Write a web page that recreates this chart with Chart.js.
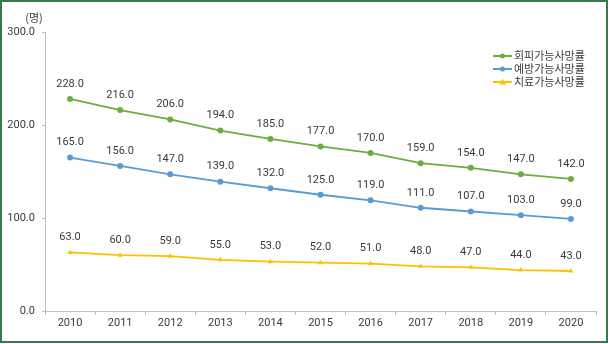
<!DOCTYPE html>
<html>
<head>
<meta charset="utf-8">
<script src="https://cdn.jsdelivr.net/npm/chart.js@4"></script>
<style>
  html, body { margin: 0; padding: 0; background: #fff; }
  #wrap { width: 610px; height: 344px; position: relative; }
</style>
</head>
<body>
<div id="wrap"><canvas id="c" width="610" height="344"></canvas></div>
<script>
const years = ['2010','2011','2012','2013','2014','2015','2016','2017','2018','2019','2020'];
const avoidable = [228, 216, 206, 194, 185, 177, 170, 159, 154, 147, 142];
const preventable = [165, 156, 147, 139, 132, 125, 119, 111, 107, 103, 99];
const treatable = [63, 60, 59, 55, 53, 52, 51, 48, 47, 44, 43];
const seriesNames = ['회피가능사망률', '예방가능사망률', '치료가능사망률'];
const yTicks = [0, 100, 200, 300];
const unitLabel = '(명)';

const FONT = 'Roboto, "Noto Sans CJK KR", sans-serif';
const KFONT = '"Noto Sans CJK KR", "Noto Sans", sans-serif';
const colors = ['#6aae3f', '#5b9bd5', '#ffc000'];
const textColor = '#3a3a3a';

// value labels, unit caption, legend and frame
const decorations = {
  id: 'decorations',
  afterDatasetsDraw(chart) {
    const ctx = chart.ctx;
    ctx.save();
    ctx.font = '11px ' + FONT;
    ctx.fillStyle = textColor;
    ctx.textAlign = 'center';
    ctx.textBaseline = 'middle';
    chart.data.datasets.forEach((ds, i) => {
      const meta = chart.getDatasetMeta(i);
      meta.data.forEach((pt, j) => {
        ctx.fillText(ds.data[j].toFixed(1), pt.x, pt.y - 15);
      });
    });
    ctx.restore();
  },
  afterDraw(chart) {
    const ctx = chart.ctx;
    ctx.save();
    // unit caption
    ctx.font = '11px ' + KFONT;
    ctx.fillStyle = textColor;
    ctx.textAlign = 'center';
    ctx.textBaseline = 'middle';
    ctx.fillText(unitLabel, 34, 18);

    // legend
    const lx = 493, lw = 19, ly0 = 56, step = 13;
    chart.data.datasets.forEach((ds, i) => {
      const y = ly0 + i * step;
      ctx.strokeStyle = colors[i];
      ctx.fillStyle = colors[i];
      ctx.lineWidth = 2;
      ctx.beginPath();
      ctx.moveTo(lx, y);
      ctx.lineTo(lx + lw, y);
      ctx.stroke();
      const cx = lx + lw / 2;
      ctx.beginPath();
      if (i === 2) {
        ctx.moveTo(cx, y - 3.5);
        ctx.lineTo(cx + 3.5, y + 2.5);
        ctx.lineTo(cx - 3.5, y + 2.5);
        ctx.closePath();
      } else {
        ctx.arc(cx, y, 2.5, 0, Math.PI * 2);
      }
      ctx.fill();
      ctx.fillStyle = textColor;
      ctx.font = '11px ' + KFONT;
      ctx.textAlign = 'left';
      ctx.textBaseline = 'middle';
      ctx.fillText(ds.label, lx + lw + 2, y);
    });

    // frame
    ctx.strokeStyle = '#357a4a';
    ctx.lineWidth = 2;
    ctx.strokeRect(1, 1, 606, 341);
    ctx.restore();
  }
};

function lineSet(label, data, color, style) {
  return {
    label, data,
    borderColor: color,
    backgroundColor: color,
    borderWidth: 1.8,
    pointStyle: style,
    pointRadius: 3,
    pointBorderWidth: 0,
    tension: 0
  };
}

new Chart(document.getElementById('c'), {
  type: 'line',
  data: {
    labels: years,
    datasets: [
      lineSet(seriesNames[0], avoidable, colors[0], 'circle'),
      lineSet(seriesNames[1], preventable, colors[1], 'circle'),
      lineSet(seriesNames[2], treatable, colors[2], 'triangle')
    ]
  },
  options: {
    responsive: false,
    animation: false,
    layout: { padding: { left: 0, top: 32, right: 14, bottom: 0 } },
    plugins: { legend: { display: false }, tooltip: { enabled: false } },
    scales: {
      x: {
        offset: true,
        grid: { display: true, drawOnChartArea: false, offset: true, tickLength: 4, color: '#bfbfbf' },
        border: { color: '#bfbfbf', width: 1 },
        ticks: { font: { size: 11, family: FONT }, color: textColor, padding: 2, maxRotation: 0 },
        afterFit(scale) { scale.height = 33; }
      },
      y: {
        min: 0, max: 300,
        afterBuildTicks(scale) { scale.ticks = yTicks.map(v => ({ value: v })); },
        grid: { display: true, drawOnChartArea: false, tickLength: 3, color: '#bfbfbf' },
        border: { color: '#bfbfbf', width: 1 },
        ticks: {
          font: { size: 11, family: FONT }, color: textColor, padding: 7,
          callback: v => Number(v).toFixed(1)
        },
        afterFit(scale) { scale.width = 45; }
      }
    }
  },
  plugins: [decorations]
});
</script>
</body>
</html>
